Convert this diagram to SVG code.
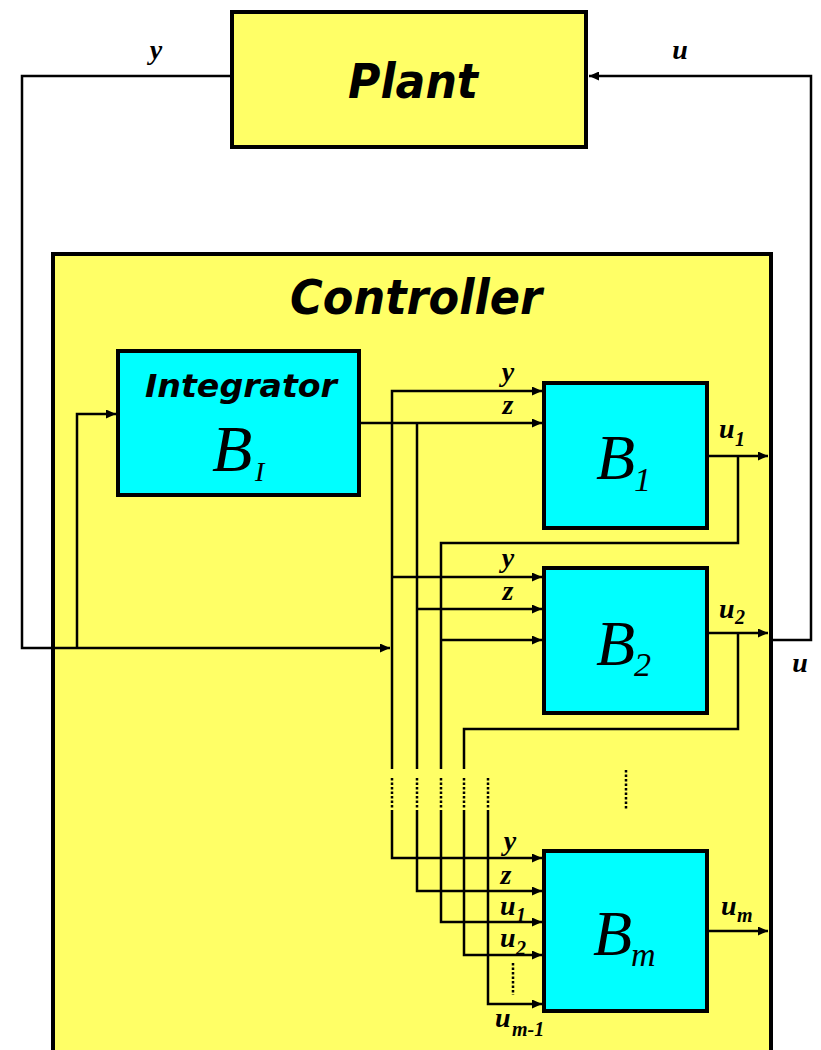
<svg xmlns="http://www.w3.org/2000/svg" width="821" height="1050" viewBox="0 0 821 1050">
<defs>
<marker id="ah" markerUnits="userSpaceOnUse" markerWidth="11" markerHeight="9" refX="10" refY="4.5" orient="auto">
<path d="M0,0 L10,4.5 L0,9 z" fill="#000"/>
</marker>
<style>
.box{stroke:#000;stroke-width:4}
.yel{fill:#FFFF66}
.cy{fill:#00FFFF}
.w{fill:none;stroke:#000;stroke-width:2.5}
.a{marker-end:url(#ah)}
.dot{fill:none;stroke:#000;stroke-width:2.5;stroke-dasharray:2.5,2}
.cm{font-family:"DejaVu Sans","Liberation Sans",sans-serif;font-weight:bold;font-style:italic;fill:#000}
.tm{font-family:"Liberation Serif","Times New Roman",serif;font-style:italic;fill:#000}
.lb{font-family:"Liberation Serif","Times New Roman",serif;font-style:italic;font-weight:bold;font-size:28px;fill:#000}
.sb{font-family:"Liberation Serif","Times New Roman",serif;font-style:italic;font-weight:bold;font-size:20px;fill:#000}
</style>
</defs>
<rect width="821" height="1050" fill="#fff"/>

<g id="plant">
<rect class="box yel" x="232" y="12" width="354" height="135"/>
<text class="cm" x="413" y="98" font-size="48" text-anchor="middle" textLength="130" lengthAdjust="spacingAndGlyphs">Plant</text>
</g>

<g id="controller">
<rect class="box yel" x="53" y="254" width="718" height="820"/>
<text class="cm" x="416" y="314" font-size="48" text-anchor="middle" textLength="252" lengthAdjust="spacingAndGlyphs">Controller</text>
</g>

<g id="integrator">
<rect class="box cy" x="118" y="351" width="241" height="144"/>
<text class="cm" x="241" y="397" font-size="32" text-anchor="middle" textLength="192" lengthAdjust="spacingAndGlyphs">Integrator</text>
<text class="tm" x="212" y="471" font-size="66">B</text>
<text class="tm" x="255" y="481" font-size="28">I</text>
</g>

<g id="b1">
<rect class="box cy" x="544" y="383" width="163" height="145"/>
<text class="tm" x="596" y="479" font-size="64">B</text>
<text class="tm" x="634" y="491" font-size="34">1</text>
</g>

<g id="b2">
<rect class="box cy" x="544" y="568" width="163" height="145"/>
<text class="tm" x="596" y="665" font-size="64">B</text>
<text class="tm" x="634" y="676" font-size="34">2</text>
</g>

<g id="bm">
<rect class="box cy" x="544" y="851" width="163" height="160"/>
<text class="tm" x="593" y="955" font-size="64">B</text>
<text class="tm" x="631" y="966" font-size="34">m</text>
</g>

<g id="connectors">
<polyline class="w a" points="230,76 22,76 22,648 390,648"/>
<polyline class="w a" points="77,648 77,414 116,414"/>
<polyline class="w a" points="771,640 811,640 811,76 589,76"/>
<polyline class="w a" points="360,423 542,423"/>
<polyline class="w a" points="392,769 392,391 542,391"/>
<polyline class="w" points="417,423 417,769"/>
<polyline class="w a" points="707,456 768,456"/>
<polyline class="w" points="738,456 738,543 441,543 441,769"/>
<polyline class="w a" points="392,577 542,577"/>
<polyline class="w a" points="417,609 542,609"/>
<polyline class="w a" points="441,640 542,640"/>
<polyline class="w a" points="707,633 768,633"/>
<polyline class="w" points="738,633 738,729 464,729 464,769"/>
<line class="dot" x1="392" y1="778" x2="392" y2="808"/>
<line class="dot" x1="417" y1="778" x2="417" y2="808"/>
<line class="dot" x1="441" y1="778" x2="441" y2="808"/>
<line class="dot" x1="464" y1="778" x2="464" y2="808"/>
<line class="dot" x1="488" y1="778" x2="488" y2="808"/>
<line class="dot" x1="626" y1="770" x2="626" y2="809"/>
<line class="dot" x1="513" y1="963" x2="513" y2="995"/>
<polyline class="w a" points="392,810 392,858 542,858"/>
<polyline class="w a" points="417,810 417,891 542,891"/>
<polyline class="w a" points="441,810 441,922 542,922"/>
<polyline class="w a" points="464,810 464,955 542,955"/>
<polyline class="w a" points="488,810 488,1004 542,1004"/>
<polyline class="w a" points="707,931 768,931"/>
</g>

<g id="labels">
<text class="lb" x="156" y="59" text-anchor="middle">y</text>
<text class="lb" x="680" y="59" text-anchor="middle">u</text>
<text class="lb" x="800" y="672" text-anchor="middle">u</text>
<text class="lb" x="508" y="381" text-anchor="middle">y</text>
<text class="lb" x="508" y="414" text-anchor="middle">z</text>
<text class="lb" x="719" y="438">u</text><text class="sb" x="735" y="446">1</text>
<text class="lb" x="508" y="567" text-anchor="middle">y</text>
<text class="lb" x="508" y="600" text-anchor="middle">z</text>
<text class="lb" x="719" y="618">u</text><text class="sb" x="735" y="624">2</text>
<text class="lb" x="510" y="850" text-anchor="middle">y</text>
<text class="lb" x="506" y="884" text-anchor="middle">z</text>
<text class="lb" x="500" y="915">u</text><text class="sb" x="516" y="922">1</text>
<text class="lb" x="500" y="947">u</text><text class="sb" x="516" y="955">2</text>
<text class="lb" x="495" y="1027">u</text><text class="sb" x="512" y="1036">m-1</text>
<text class="lb" x="721" y="915">u</text><text class="sb" x="737" y="922">m</text>
</g>
</svg>
